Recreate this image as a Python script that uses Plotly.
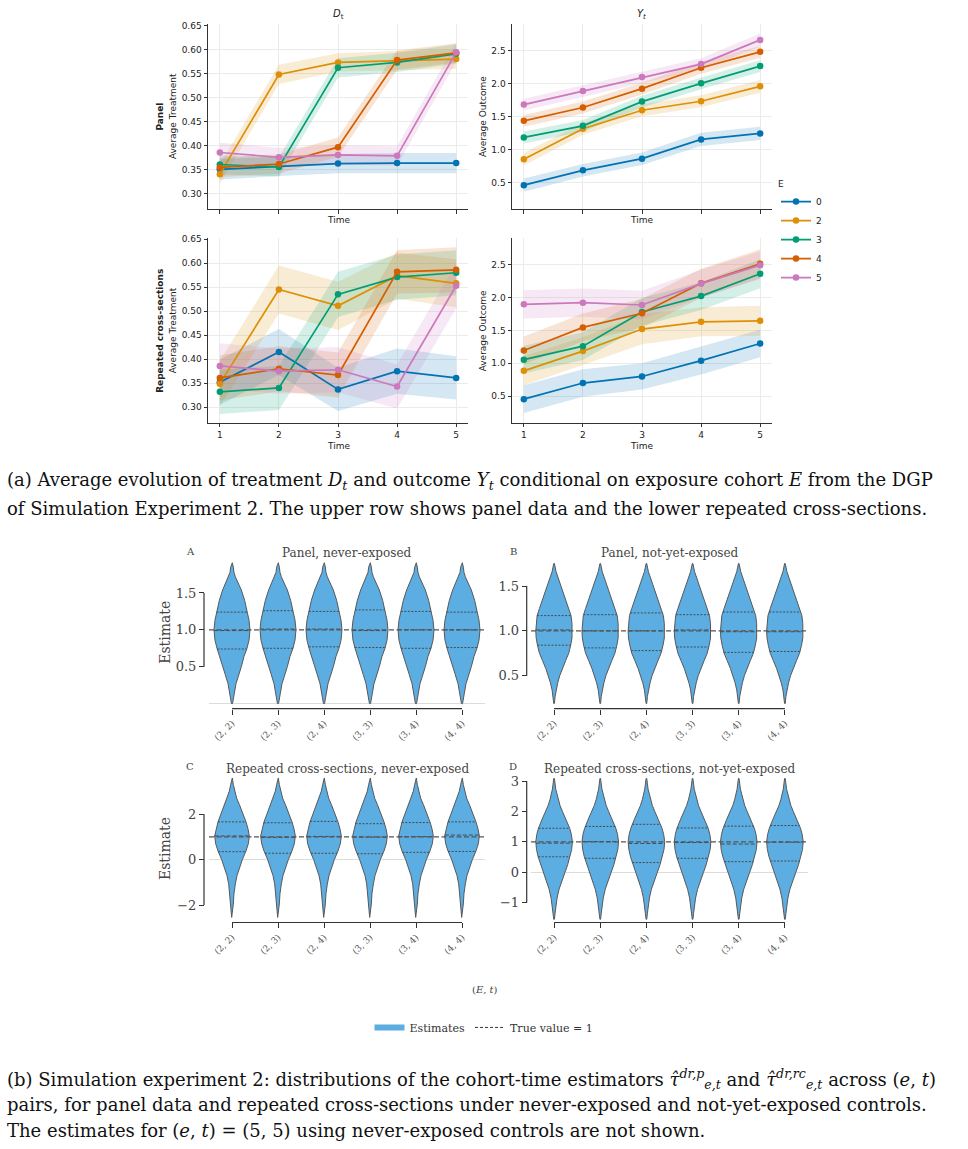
import numpy as np
import plotly.graph_objects as go

W, H = 968, 1149
SANS = "DejaVu Sans"
SERIF = "DejaVu Serif"

# ---------------- data: top line charts ----------------
TIME = [1, 2, 3, 4, 5]
COHORTS = ["0", "2", "3", "4", "5"]
COHORT_COLORS = ["#0173B2", "#DE8F05", "#029E73", "#D55E00", "#CC78BC"]

panel_treat = [
    [0.351, 0.357, 0.363, 0.364, 0.364],
    [0.341, 0.548, 0.573, 0.577, 0.580],
    [0.361, 0.356, 0.562, 0.573, 0.591],
    [0.355, 0.362, 0.397, 0.578, 0.593],
    [0.386, 0.376, 0.381, 0.379, 0.594],
]
panel_treat_ci = [
    [0.021, 0.020, 0.020, 0.021, 0.021],
    [0.020, 0.020, 0.019, 0.020, 0.020],
    [0.020, 0.020, 0.020, 0.020, 0.020],
    [0.020, 0.020, 0.020, 0.020, 0.020],
    [0.020, 0.020, 0.020, 0.020, 0.020],
]
panel_outcome = [
    [0.465, 0.690, 0.867, 1.158, 1.249],
    [0.857, 1.319, 1.600, 1.736, 1.962],
    [1.188, 1.364, 1.731, 2.008, 2.269],
    [1.440, 1.641, 1.927, 2.244, 2.485],
    [1.686, 1.892, 2.103, 2.299, 2.666],
]
panel_outcome_ci = [
    [0.100, 0.095, 0.095, 0.100, 0.100],
    [0.095, 0.090, 0.090, 0.090, 0.095],
    [0.090, 0.090, 0.090, 0.090, 0.090],
    [0.090, 0.090, 0.090, 0.090, 0.090],
    [0.090, 0.090, 0.090, 0.090, 0.095],
]
rcs_treat = [
    [0.352, 0.415, 0.337, 0.375, 0.361],
    [0.349, 0.545, 0.511, 0.574, 0.558],
    [0.332, 0.340, 0.535, 0.571, 0.580],
    [0.361, 0.380, 0.367, 0.582, 0.586],
    [0.386, 0.375, 0.378, 0.343, 0.553],
]
rcs_treat_ci = [
    [0.047, 0.048, 0.045, 0.047, 0.045],
    [0.047, 0.050, 0.050, 0.048, 0.050],
    [0.046, 0.046, 0.047, 0.047, 0.047],
    [0.047, 0.047, 0.047, 0.045, 0.047],
    [0.047, 0.047, 0.047, 0.046, 0.047],
]
rcs_outcome = [
    [0.455, 0.700, 0.800, 1.040, 1.300],
    [0.885, 1.185, 1.520, 1.630, 1.645],
    [1.055, 1.260, 1.780, 2.020, 2.360],
    [1.195, 1.545, 1.760, 2.215, 2.510],
    [1.895, 1.920, 1.885, 2.210, 2.490],
]
rcs_outcome_ci = [
    [0.210, 0.210, 0.200, 0.210, 0.210],
    [0.220, 0.210, 0.230, 0.220, 0.230],
    [0.210, 0.210, 0.210, 0.210, 0.220],
    [0.210, 0.210, 0.220, 0.220, 0.220],
    [0.215, 0.215, 0.215, 0.210, 0.210],
]
TREAT_TICKS = [0.30, 0.35, 0.40, 0.45, 0.50, 0.55, 0.60, 0.65]
OUTCOME_TICKS = [0.5, 1.0, 1.5, 2.0, 2.5]

# ---------------- data: violins ----------------
PAIRS = ["(2, 2)", "(2, 3)", "(2, 4)", "(3, 3)", "(3, 4)", "(4, 4)"]
TRUE_VALUE = 1.0

A_q1 = [0.74, 0.75, 0.77, 0.76, 0.75, 0.76]
A_med = [0.99, 1.01, 1.01, 0.99, 1.00, 1.00]
A_q3 = [1.24, 1.26, 1.25, 1.27, 1.25, 1.24]
A_levels = [0.00, 0.14, 0.27, 0.39, 0.50, 0.64, 0.75, 0.86, 1.00, 1.13, 1.24, 1.40, 1.54, 1.63, 1.72, 1.78, 1.85, 1.91]
A_width = [0.012, 0.051, 0.087, 0.145, 0.203, 0.261, 0.326, 0.370, 0.391, 0.370, 0.333, 0.275, 0.203, 0.138, 0.072, 0.043, 0.029, 0.007]

B_q1 = [0.84, 0.81, 0.78, 0.82, 0.76, 0.77]
B_med = [1.01, 1.00, 1.00, 1.01, 0.99, 0.99]
B_q3 = [1.17, 1.18, 1.20, 1.18, 1.21, 1.21]
B_levels = [0.19, 0.27, 0.34, 0.42, 0.50, 0.58, 0.67, 0.75, 0.84, 0.92, 1.00, 1.08, 1.17, 1.25, 1.34, 1.42, 1.50, 1.58, 1.66, 1.75]
B_width = [0.007, 0.022, 0.043, 0.079, 0.122, 0.180, 0.252, 0.317, 0.360, 0.388, 0.396, 0.388, 0.367, 0.317, 0.259, 0.201, 0.151, 0.094, 0.043, 0.007]

C_q1 = [0.35, 0.28, 0.28, 0.26, 0.32, 0.36]
C_med = [1.04, 0.98, 1.02, 0.99, 1.01, 1.08]
C_q3 = [1.66, 1.62, 1.68, 1.58, 1.63, 1.66]
C_levels = [-2.54, -1.95, -1.50, -1.08, -0.70, -0.35, 0.00, 0.38, 0.70, 1.04, 1.35, 1.66, 2.05, 2.43, 2.70, 3.01, 3.30, 3.59]
C_width = [0.007, 0.029, 0.043, 0.072, 0.109, 0.159, 0.225, 0.304, 0.355, 0.377, 0.348, 0.304, 0.232, 0.159, 0.101, 0.058, 0.029, 0.007]

D_q1 = [0.51, 0.46, 0.32, 0.46, 0.35, 0.37]
D_med = [0.96, 1.01, 0.95, 0.98, 0.93, 0.99]
D_q3 = [1.45, 1.51, 1.58, 1.46, 1.52, 1.54]
D_levels = [-1.55, -1.35, -1.11, -0.85, -0.56, -0.28, 0.00, 0.25, 0.51, 0.75, 1.01, 1.25, 1.45, 1.75, 2.01, 2.20, 2.41, 2.74, 3.09]
D_width = [0.007, 0.022, 0.036, 0.065, 0.108, 0.173, 0.237, 0.295, 0.345, 0.381, 0.396, 0.374, 0.338, 0.259, 0.180, 0.129, 0.086, 0.036, 0.007]

VIOLIN_PANELS = [
    ("A", "Panel, never-exposed", A_q1, A_med, A_q3, A_levels, A_width, [0.5, 1.0, 1.5], ".1f"),
    ("B", "Panel, not-yet-exposed", B_q1, B_med, B_q3, B_levels, B_width, [0.5, 1.0, 1.5], ".1f"),
    ("C", "Repeated cross-sections, never-exposed", C_q1, C_med, C_q3, C_levels, C_width, [-2, 0, 2], "d"),
    ("D", "Repeated cross-sections, not-yet-exposed", D_q1, D_med, D_q3, D_levels, D_width, [-1, 0, 1, 2, 3], "d"),
]

# ---------------- helpers ----------------
def px(p):
    return p / W


def py(p):
    return 1 - p / H


def rgba(hexcol, a):
    h = hexcol.lstrip("#")
    r, g, b = int(h[0:2], 16), int(h[2:4], 16), int(h[4:6], 16)
    return f"rgba({r},{g},{b},{a})"


fig = go.Figure()


def add_line_panel(data, ci, xa, ya, showlegend):
    for vals, hw, col in zip(data, ci, COHORT_COLORS):
        v = np.array(vals)
        h = np.array(hw)
        fig.add_trace(go.Scatter(
            x=TIME + TIME[::-1], y=list(v + h) + list((v - h)[::-1]),
            fill="toself", fillcolor=rgba(col, 0.17), line=dict(width=0),
            mode="lines", hoverinfo="skip", showlegend=False, xaxis=xa, yaxis=ya))
    for vals, col, name in zip(data, COHORT_COLORS, COHORTS):
        fig.add_trace(go.Scatter(
            x=TIME, y=vals, mode="lines+markers", name=name,
            line=dict(color=col, width=1.7), marker=dict(color=col, size=6.5),
            showlegend=showlegend, legendgroup=name, xaxis=xa, yaxis=ya))


add_line_panel(panel_treat, panel_treat_ci, "x", "y", True)
add_line_panel(panel_outcome, panel_outcome_ci, "x2", "y2", False)
add_line_panel(rcs_treat, rcs_treat_ci, "x3", "y3", False)
add_line_panel(rcs_outcome, rcs_outcome_ci, "x4", "y4", False)

VIOLIN_FILL = "#5BADE2"
EDGE = "#585858"

v_axes = [("x5", "y5"), ("x6", "y6"), ("x7", "y7"), ("x8", "y8")]
for (letter, title, q1, med, q3, levels, width, yt, yf), (xa, ya) in zip(VIOLIN_PANELS, v_axes):
    lv = np.array(levels)
    wd = np.array(width)
    for i in range(len(PAIRS)):
        xs = list(i - wd) + list((i + wd)[::-1]) + [i - wd[0]]
        ys = list(lv) + list(lv[::-1]) + [lv[0]]
        fig.add_trace(go.Scatter(
            x=xs, y=ys, fill="toself", fillcolor=VIOLIN_FILL, mode="lines",
            line=dict(color=EDGE, width=1), hoverinfo="skip", showlegend=False,
            xaxis=xa, yaxis=ya))
    for qs, dash in ((q1, "2px,1.5px"), (q3, "2px,1.5px"), (med, "4px,2px")):
        lx, ly = [], []
        for i, q in enumerate(qs):
            w = float(np.interp(q, lv, wd))
            lx += [i - w, i + w, None]
            ly += [q, q, None]
        fig.add_trace(go.Scatter(
            x=lx, y=ly, mode="lines", line=dict(color="#4a4a4a", width=1, dash=dash),
            hoverinfo="skip", showlegend=False, xaxis=xa, yaxis=ya))

# legend-only entries for the violin part
fig.add_trace(go.Scatter(x=[None], y=[None], mode="lines", name="Estimates",
                         line=dict(color=VIOLIN_FILL, width=6), legend="legend2",
                         xaxis="x5", yaxis="y5"))
fig.add_trace(go.Scatter(x=[None], y=[None], mode="lines", name="True value = 1",
                         line=dict(color="#333333", width=1, dash="3px,2px"), legend="legend2",
                         xaxis="x5", yaxis="y5"))

# ---------------- axes ----------------
AXC = "#333333"
line_x = dict(range=[0.8, 5.2], tickvals=TIME, showgrid=True, gridcolor="#ebebeb", gridwidth=1,
              showline=True, linecolor=AXC, linewidth=1, ticks="outside", ticklen=3.5,
              tickcolor=AXC, tickwidth=1, zeroline=False,
              tickfont=dict(family=SANS, size=9, color="#222"))
line_y = dict(showgrid=True, gridcolor="#ebebeb", gridwidth=1, showline=True, linecolor=AXC,
              linewidth=1, ticks="outside", ticklen=3.5, tickcolor=AXC, tickwidth=1,
              zeroline=False, tickfont=dict(family=SANS, size=9, color="#222"))

TOP_Y = [py(206), py(20.5)]
BOT_Y = [py(420), py(235)]
LEFT_X = [px(208), px(468)]
RIGHT_X = [px(512), px(772)]

layout = dict(
    xaxis=dict(line_x, domain=LEFT_X, anchor="y", showticklabels=False),
    yaxis=dict(line_y, domain=TOP_Y, anchor="x", range=[0.268, 0.652], tickvals=TREAT_TICKS, tickformat=".2f"),
    xaxis2=dict(line_x, domain=RIGHT_X, anchor="y2", showticklabels=False),
    yaxis2=dict(line_y, domain=TOP_Y, anchor="x2", range=[0.1, 2.9], tickvals=OUTCOME_TICKS, tickformat=".1f"),
    xaxis3=dict(line_x, domain=LEFT_X, anchor="y3"),
    yaxis3=dict(line_y, domain=BOT_Y, anchor="x3", range=[0.268, 0.652], tickvals=TREAT_TICKS, tickformat=".2f"),
    xaxis4=dict(line_x, domain=RIGHT_X, anchor="y4"),
    yaxis4=dict(line_y, domain=BOT_Y, anchor="x4", range=[0.1, 2.9], tickvals=OUTCOME_TICKS, tickformat=".1f"),
)

V_LEFT_X = [px(209), px(485)]
V_RIGHT_X = [px(531), px(808)]
V_TOP_Y = [py(705), py(560)]
V_BOT_Y = [py(920), py(776)]
V_XRANGE = [-0.5, len(PAIRS) - 0.5]
v_geo = [
    (V_LEFT_X, V_TOP_Y, [-0.04, 1.919], 707, 204),
    (V_RIGHT_X, V_TOP_Y, [0.156, 1.767], 707, 526.7),
    (V_LEFT_X, V_BOT_Y, [-2.69, 3.62], 921.7, 204),
    (V_RIGHT_X, V_BOT_Y, [-1.60, 3.13], 921.7, 526.7),
]


def xpaper(v, dom):
    f = (v - V_XRANGE[0]) / (V_XRANGE[1] - V_XRANGE[0])
    return dom[0] + f * (dom[1] - dom[0])


shapes = []
annotations = []
for k, ((letter, title, q1, med, q3, levels, width, yt, yf), (xd, yd, yr, xpos, ypos)) in enumerate(zip(VIOLIN_PANELS, v_geo)):
    n = 5 + k
    layout[f"xaxis{n}"] = dict(domain=xd, anchor="free", position=py(xpos), range=V_XRANGE,
                               tickvals=list(range(len(PAIRS))), ticktext=PAIRS, tickangle=-45,
                               ticks="outside", ticklen=5, tickcolor=AXC, tickwidth=1.2,
                               showline=False, showgrid=False, zeroline=False,
                               tickfont=dict(family=SERIF, size=9, color="#555"))
    layout[f"yaxis{n}"] = dict(domain=yd, anchor="free", position=px(ypos), range=yr, tickvals=yt,
                               tickformat=yf, ticks="outside", ticklen=5, tickcolor=AXC, tickwidth=1.2,
                               showline=False, showgrid=False, zeroline=True, zerolinecolor="#dcdcdc",
                               zerolinewidth=1, tickfont=dict(family=SERIF, size=13, color="#444"))
    # trimmed spines (from first to last tick)
    shapes.append(dict(type="line", xref="paper", yref=f"y{n}", x0=px(ypos), x1=px(ypos),
                       y0=min(yt), y1=max(yt), line=dict(color=AXC, width=1.2)))
    shapes.append(dict(type="line", xref="paper", yref="paper",
                       x0=xpaper(0, xd), x1=xpaper(len(PAIRS) - 1, xd),
                       y0=py(xpos), y1=py(xpos), line=dict(color=AXC, width=1.2)))
    shapes.append(dict(type="line", xref=f"x{n} domain", yref=f"y{n}", x0=0, x1=1,
                       y0=TRUE_VALUE, y1=TRUE_VALUE, line=dict(color="#555", width=1.2, dash="5px,2.5px")))
    xc = (xd[0] + xd[1]) / 2
    ytitle = py(551) if k < 2 else py(768)
    annotations.append(dict(text=title, x=xc, y=ytitle, xref="paper", yref="paper", showarrow=False,
                            xanchor="center", yanchor="middle", font=dict(family=SERIF, size=12, color="#444")))
    annotations.append(dict(text=letter, x=px(190 if k % 2 == 0 else 513), y=py(549 if k < 2 else 765),
                            xref="paper", yref="paper", showarrow=False, xanchor="center", yanchor="middle",
                            font=dict(family=SERIF, size=10, color="#444")))

# ---------------- annotations (top part) ----------------
def ann(text, x, y, size, family=SANS, angle=0, color="#222", xanchor="center"):
    annotations.append(dict(text=text, x=px(x), y=py(y), xref="paper", yref="paper", showarrow=False,
                            xanchor=xanchor, yanchor="middle", textangle=angle,
                            font=dict(family=family, size=size, color=color)))


ann("<i>D</i><sub>t</sub>", 338, 11, 10)
ann("<i>Y</i><sub><i>t</i></sub>", 641, 11, 10)
ann("<b>Panel</b>", 160, 113, 9, angle=-90)
ann("Average Treatment", 172.5, 113, 9, angle=-90)
ann("<b>Repeated cross-sections</b>", 160, 328, 9, angle=-90)
ann("Average Treatment", 172.5, 328, 9, angle=-90)
ann("Average Outcome", 482.5, 113, 9, angle=-90)
ann("Average Outcome", 482.5, 328, 9, angle=-90)
for xx, yy in ((338, 217), (641, 217), (338, 444), (641, 444)):
    ann("Time", xx, yy, 9)

ann("Estimate", 165, 631, 14, family=SERIF, angle=-90, color="#444")
ann("Estimate", 165, 848, 14, family=SERIF, angle=-90, color="#444")
ann("(<i>E</i>, <i>t</i>)", 485, 989, 10, family=SERIF, color="#444")

CAP = 18
ann("(a) Average evolution of treatment <i>D</i><sub><i>t</i></sub> and outcome <i>Y</i><sub><i>t</i></sub> "
    "conditional on exposure cohort <i>E</i> from the DGP", 5, 479, CAP, family=SERIF, color="#111", xanchor="left")
ann("of Simulation Experiment 2. The upper row shows panel data and the lower repeated cross-sections.",
    5, 506, CAP, family=SERIF, color="#111", xanchor="left")
ann("(b) Simulation experiment 2: distributions of the cohort-time estimators "
    "<i>τ̂</i><sup><i>dr,p</i></sup><sub><i>e,t</i></sub> and <i>τ̂</i><sup><i>dr,rc</i></sup><sub><i>e,t</i></sub> "
    "across (<i>e</i>, <i>t</i>)", 5, 1079, CAP, family=SERIF, color="#111", xanchor="left")
ann("pairs, for panel data and repeated cross-sections under never-exposed and not-yet-exposed controls.",
    5, 1104, CAP, family=SERIF, color="#111", xanchor="left")
ann("The estimates for (<i>e</i>, <i>t</i>) = (5, 5) using never-exposed controls are not shown.",
    5, 1130, CAP, family=SERIF, color="#111", xanchor="left")

fig.update_layout(
    **layout,
    width=W, height=H, autosize=False,
    margin=dict(l=0, r=0, t=0, b=0),
    paper_bgcolor="white", plot_bgcolor="white",
    shapes=shapes, annotations=annotations,
    legend=dict(title=dict(text="E", font=dict(family=SANS, size=9, color="#222")),
                x=px(776), y=py(172), xanchor="left", yanchor="top",
                font=dict(family=SANS, size=9, color="#222"), itemwidth=30,
                bgcolor="rgba(0,0,0,0)", tracegroupgap=0),
    legend2=dict(orientation="h", x=0.5, y=py(1027), xanchor="center", yanchor="middle",
                 font=dict(family=SERIF, size=11, color="#333"), itemwidth=30,
                 bgcolor="rgba(0,0,0,0)"),
)

fig.write_html("out.html")
